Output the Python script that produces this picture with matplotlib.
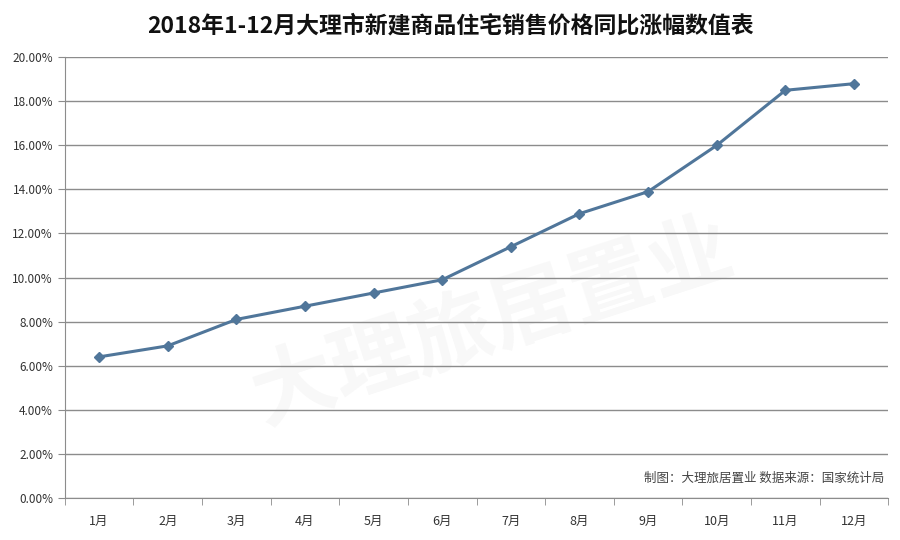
import matplotlib
matplotlib.use("Agg")
import matplotlib.pyplot as plt
from matplotlib.ticker import FuncFormatter, FixedLocator

plt.rcParams['font.family'] = ['Noto Sans CJK SC', 'DejaVu Sans']

months = ["1月", "2月", "3月", "4月", "5月", "6月", "7月", "8月", "9月", "10月", "11月", "12月"]
values = [6.4, 6.9, 8.1, 8.7, 9.3, 9.9, 11.4, 12.9, 13.9, 16.0, 18.5, 18.8]
yticks = [0, 2, 4, 6, 8, 10, 12, 14, 16, 18, 20]
title = "2018年1-12月大理市新建商品住宅销售价格同比涨幅数值表"
source = "制图：大理旅居置业 数据来源：国家统计局"
watermark = "大理旅居置业"

fig = plt.figure(figsize=(9, 5.4), dpi=100)
ax = fig.add_axes([0.072, 0.078, 0.915, 0.816])

x = list(range(len(months)))
ax.plot(x, values, color="#50769A", lw=2.2, marker="D", ms=5.5, zorder=3)

ax.set_xlim(-0.5, len(months) - 0.5)
ax.set_ylim(0, 20)
ax.set_yticks(yticks)
ax.yaxis.set_major_formatter(FuncFormatter(lambda v, p: f"{v:.2f}%"))
ax.grid(axis="y", color="#8C8C8C", lw=1.0)
ax.set_axisbelow(True)

ax.set_xticks(x)
ax.set_xticklabels(months)
ax.xaxis.set_minor_locator(FixedLocator([i - 0.5 for i in range(len(months) + 1)]))
ax.tick_params(axis="x", which="major", length=0, pad=12, labelsize=9, colors="#333333")
ax.tick_params(axis="x", which="minor", length=5, color="#8C8C8C", direction="out")
ax.tick_params(axis="y", length=5, color="#8C8C8C", labelsize=8.5, labelcolor="#333333")

for s in ["top", "right"]:
    ax.spines[s].set_visible(False)
for s in ["left", "bottom"]:
    ax.spines[s].set_color("#8C8C8C")

fig.text(0.5, 0.952, title, ha="center", va="center", fontsize=16.5, fontweight="bold", color="#111111")
ax.text(0.995, 0.03, source, transform=ax.transAxes, ha="right", va="bottom", fontsize=9, color="#444444")
ax.text(0.52, 0.4, watermark, transform=ax.transAxes, ha="center", va="center", fontsize=60,
        fontweight="bold", color="#000000", alpha=0.03, rotation=18, zorder=0)

fig.savefig("out.png", dpi=100, facecolor="white")
